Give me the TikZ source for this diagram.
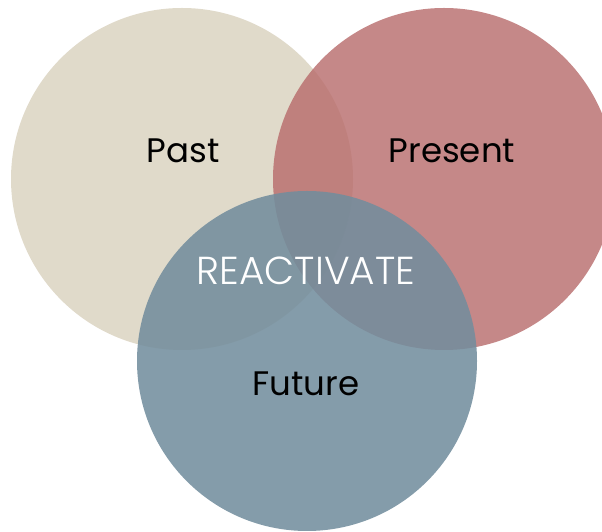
\documentclass[tikz,border=0pt]{standalone}
\usepackage{fontspec}
\setmainfont{Poppins}
\newfontfamily\lightfont{Poppins Light}
\definecolor{pastc}{RGB}{224,218,202}
\definecolor{presc}{RGB}{183,106,106}
\definecolor{futc}{RGB}{114,141,157}
\begin{document}
\begin{tikzpicture}[x=1pt,y=1pt,
  lbl/.style={font=\fontsize{34}{40}\selectfont, text=black, inner sep=0pt},
  centrelbl/.style={font=\lightfont\fontsize{39}{44}\selectfont, text=white, inner sep=0pt}]
\useasboundingbox (0,0) rectangle (602,532);
\clip (0,0) rectangle (602,532);
\fill[pastc] (182,353) circle (171);
\fill[presc, opacity=0.8] (444,353) circle (171);
\fill[futc, opacity=0.87] (307,171) circle (170);
\node[lbl] (past) at (183,381) {Past};
\node[lbl] (present) at (452,381) {Present};
\node[centrelbl] (react) at (306,261) {REACTIVATE};
\node[lbl] (future) at (306,148) {Future};
\end{tikzpicture}
\end{document}
